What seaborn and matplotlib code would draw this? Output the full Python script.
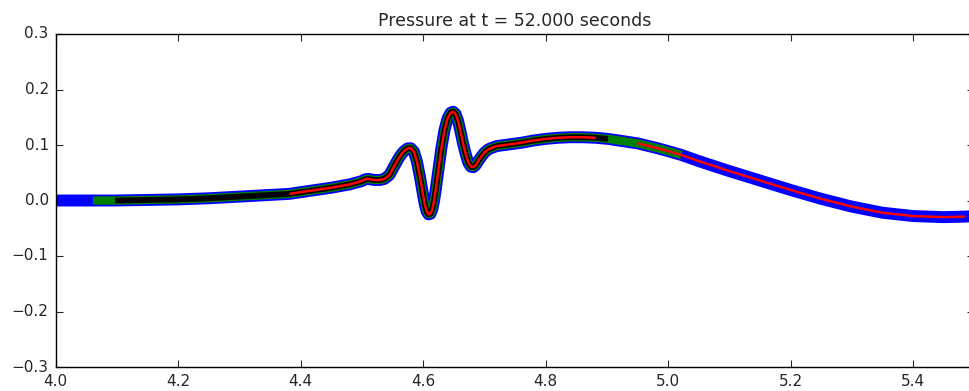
import numpy as np
import pandas as pd
import matplotlib
matplotlib.use("Agg")
import matplotlib.pyplot as plt
import seaborn as sns

# Pressure profile along x at t = 52 s
x_pos = [4.000, 4.050, 4.061, 4.097, 4.150, 4.200, 4.250, 4.300, 4.350, 4.382,
         4.400, 4.450, 4.480, 4.500, 4.505, 4.510, 4.515, 4.520, 4.530, 4.537,
         4.545, 4.550, 4.555, 4.560, 4.565, 4.570, 4.575, 4.580, 4.585, 4.590,
         4.595, 4.600, 4.603, 4.606, 4.609, 4.612, 4.615, 4.618, 4.621, 4.625,
         4.630, 4.635, 4.640, 4.645, 4.649, 4.653, 4.657, 4.661, 4.665, 4.670,
         4.674, 4.678, 4.682, 4.686, 4.690, 4.695, 4.700, 4.705, 4.710, 4.720,
         4.740, 4.760, 4.780, 4.800, 4.820, 4.840, 4.860, 4.882, 4.902, 4.920,
         4.950, 4.980, 5.000, 5.022, 5.050, 5.100, 5.150, 5.200, 5.250, 5.300,
         5.350, 5.400, 5.450, 5.485, 5.500]
pressure = [0.000, 0.000, 0.000, 0.000, 0.001, 0.002, 0.004, 0.007, 0.010, 0.012,
            0.015, 0.023, 0.029, 0.035, 0.038, 0.039, 0.038, 0.037, 0.037, 0.039,
            0.046, 0.056, 0.066, 0.076, 0.084, 0.090, 0.094, 0.094, 0.088, 0.070,
            0.042, 0.010, -0.008, -0.020, -0.025, -0.024, -0.016, 0.000, 0.022, 0.055,
            0.095, 0.127, 0.148, 0.158, 0.160, 0.156, 0.144, 0.125, 0.104, 0.082,
            0.068, 0.061, 0.060, 0.064, 0.071, 0.079, 0.086, 0.091, 0.094, 0.098,
            0.101, 0.104, 0.108, 0.111, 0.113, 0.114, 0.114, 0.113, 0.111, 0.108,
            0.103, 0.095, 0.089, 0.082, 0.071, 0.053, 0.036, 0.019, 0.003, -0.011,
            -0.022, -0.028, -0.030, -0.029, -0.028]

# Refinement patches: (x start, x end) for each level, coarse to fine
level1 = [(4.000, 5.500)]
level2 = [(4.061, 5.022)]
level3 = [(4.097, 4.902)]
level4 = [(4.382, 4.882), (4.950, 5.485)]

level_colors = ["blue", "green", "black", "red"]
level_widths = [8.6, 6.0, 4.2, 1.8]

x_ticks = [4.0, 4.2, 4.4, 4.6, 4.8, 5.0, 5.2, 5.4]
y_ticks = [-0.3, -0.2, -0.1, 0.0, 0.1, 0.2, 0.3]

plt.style.use("classic")
sns.set_style("ticks", {"axes.edgecolor": "black", "xtick.direction": "in",
                        "ytick.direction": "in", "font.family": ["DejaVu Sans"]})
plt.rcParams["font.family"] = ["DejaVu Sans"]
plt.rcParams["axes.unicode_minus"] = True

df = pd.DataFrame({"x": x_pos, "p": pressure})

fig = plt.figure(figsize=(9.69, 3.91), dpi=100, facecolor="white")
ax = fig.add_axes([55.6 / 969, 24 / 391, 918.7 / 969, 333 / 391])
ax.set_facecolor("white")

for patches, color, lw in zip([level1, level2, level3, level4], level_colors, level_widths):
    for a, b in patches:
        seg = df[(df["x"] >= a - 1e-9) & (df["x"] <= b + 1e-9)]
        sns.lineplot(data=seg, x="x", y="p", color=color, linewidth=lw,
                     solid_capstyle="butt", solid_joinstyle="round",
                     ax=ax, legend=False)

ax.set_xlim(4.0, 5.5)
ax.set_ylim(-0.3, 0.3)
ax.set_xticks(x_ticks)
ax.set_yticks(y_ticks)
ax.set_xticklabels([f"{v:.1f}" for v in x_ticks], fontsize=11)
ax.set_yticklabels([f"{v:.1f}".replace("-", "\u2212") for v in y_ticks], fontsize=11)
ax.tick_params(direction="in", top=True, right=True, length=5, width=0.8, pad=5)
for s in ax.spines.values():
    s.set_color("black")
    s.set_linewidth(1.0)
ax.set_xlabel("")
ax.set_ylabel("")
ax.set_title("Pressure at t = 52.000 seconds", fontsize=12.5, pad=6)

fig.savefig("out.png", dpi=100, facecolor="white")
